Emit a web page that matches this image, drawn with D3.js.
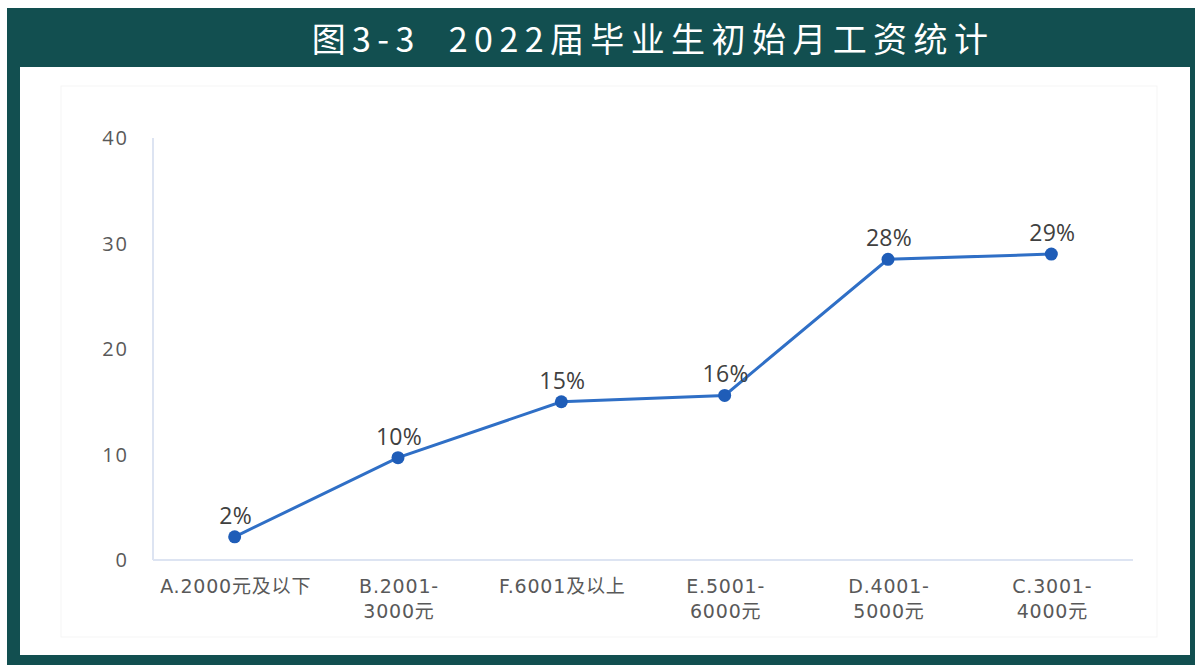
<!DOCTYPE html>
<html><head><meta charset="utf-8">
<script src="https://cdn.jsdelivr.net/npm/d3@7"></script>
<style>
html,body{margin:0;padding:0;background:#fff;}
svg{display:block;}
</style></head>
<body>
<svg id="chart" width="1195" height="665"></svg>
<script>
const title = "图3-3  2022届毕业生初始月工资统计";
const categories = ["A.2000元及以下", "B.2001-3000元", "F.6001及以上", "E.5001-6000元", "D.4001-5000元", "C.3001-4000元"];
const categoryLines = [["A.2000元及以下"], ["B.2001-", "3000元"], ["F.6001及以上"], ["E.5001-", "6000元"], ["D.4001-", "5000元"], ["C.3001-", "4000元"]];
const values = [2.2, 9.7, 15.0, 15.6, 28.5, 29.0];
const valueLabels = ["2%", "10%", "15%", "16%", "28%", "29%"];
const yTicks = [0, 10, 20, 30, 40];

const svg = d3.select("#chart");
const teal = "#124f50";
const titleFont = "'Noto Sans CJK SC','Noto Sans',sans-serif";
const font = "'Open Sans','Noto Sans CJK SC',sans-serif";
const xFont = "'DejaVu Sans','Noto Sans CJK SC',sans-serif";

svg.append("rect").attr("x", 7).attr("y", 8).attr("width", 1188).attr("height", 657).attr("fill", teal);
svg.append("rect").attr("x", 20).attr("y", 67).attr("width", 1170).attr("height", 588).attr("fill", "#fff");
svg.append("rect").attr("x", 61).attr("y", 86).attr("width", 1096).attr("height", 551)
  .attr("fill", "none").attr("stroke", "#f5f5f5").attr("stroke-width", 1);

svg.append("text").attr("x", 653).attr("y", 52).attr("text-anchor", "middle")
  .attr("fill", "#fff").attr("font-family", titleFont).attr("font-weight", 400)
  .attr("font-size", 34).attr("letter-spacing", 6.4).style("white-space", "pre").text(title);

const x = d3.scaleBand().domain(categories).range([153, 1133]);
const y = d3.scaleLinear().domain([0, 40]).range([560, 138]);

// axis lines
const axisColor = "#dde4f2";
svg.append("line").attr("x1", 153).attr("x2", 153).attr("y1", y(40)).attr("y2", y(0)).attr("stroke", axisColor).attr("stroke-width", 2);
svg.append("line").attr("x1", 153).attr("x2", 1133).attr("y1", y(0)).attr("y2", y(0)).attr("stroke", axisColor).attr("stroke-width", 2);

// y tick labels
svg.selectAll(".ytick").data(yTicks).enter().append("text")
  .attr("x", 129).attr("y", d => y(d) + 7).attr("text-anchor", "end")
  .attr("fill", "#595959").attr("font-family", font).attr("font-size", 20)
  .attr("letter-spacing", 2).text(d => d);

// x labels (one text per line)
const xLines = [];
categories.forEach((c, i) => categoryLines[i].forEach((ln, j) => xLines.push({c, ln, j})));
svg.selectAll(".xl").data(xLines).enter().append("text")
  .attr("x", d => x(d.c) + x.bandwidth() / 2 + 1).attr("y", d => 593 + d.j * 25)
  .attr("text-anchor", "middle").attr("fill", "#595959").attr("font-family", xFont).attr("font-size", 19)
  .attr("letter-spacing", 0.8).text(d => d.ln);

const cx = d => x(d) + x.bandwidth() / 2;
const pts = categories.map((c, i) => [cx(c), y(values[i])]);

svg.append("path").attr("d", d3.line()(pts)).attr("fill", "none")
  .attr("stroke", "#2f6fc6").attr("stroke-width", 3);

svg.selectAll(".dot").data(pts).enter().append("circle")
  .attr("cx", d => d[0]).attr("cy", d => d[1]).attr("r", 6.5).attr("fill", "#1f5db8");

svg.selectAll(".vl").data(pts).enter().append("text")
  .attr("x", d => d[0] + 1).attr("y", d => d[1] - 13).attr("text-anchor", "middle")
  .attr("fill", "#404040").attr("font-family", font).attr("font-size", 23)
  .attr("letter-spacing", 0.3)
  .text((d, i) => valueLabels[i]);
</script>
</body></html>
